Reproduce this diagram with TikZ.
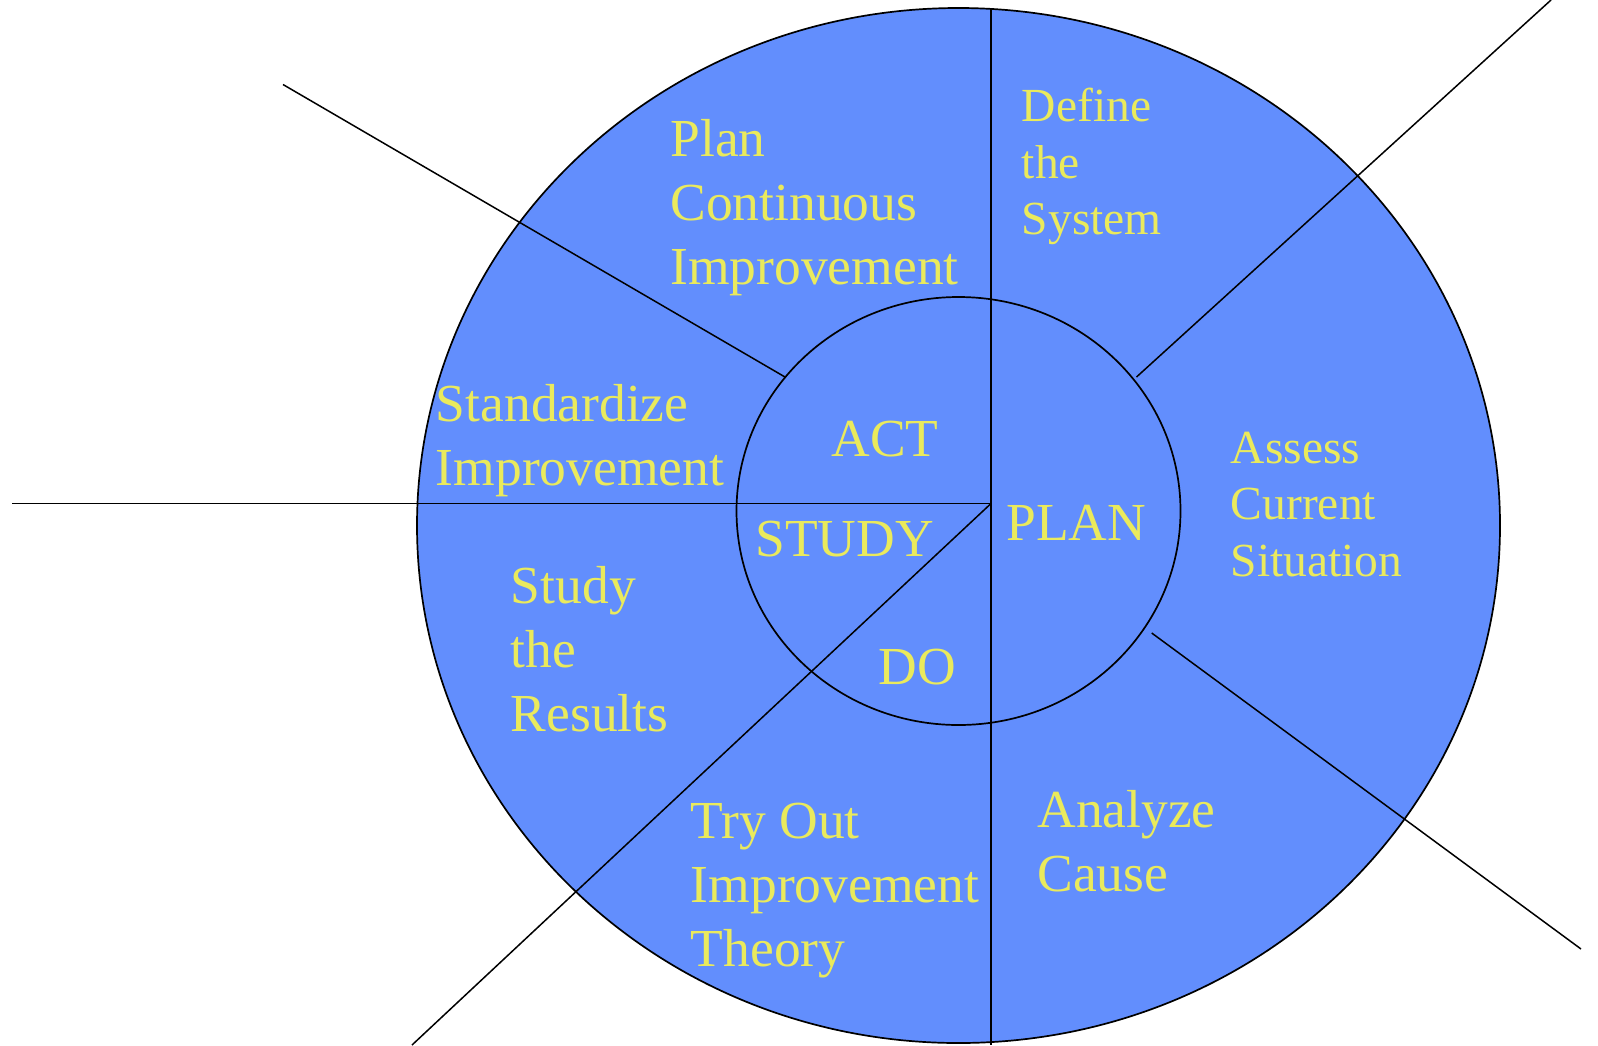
\documentclass[tikz,border=0pt]{standalone}
\usepackage{fontspec}
\setmainfont{Liberation Serif}
\definecolor{wheelblue}{RGB}{98,142,253}
\definecolor{labelyellow}{RGB}{234,234,92}
\newcommand{\lines}[1]{\begin{tabular}[t]{@{}l@{}}#1\end{tabular}}
\begin{document}
\begin{tikzpicture}[x=0.5pt,y=-0.5pt,
  edge/.style={draw=black,line width=0.75pt},
  rim/.style={draw=black,line width=0.85pt,fill=wheelblue},
  biglabel/.style={text=labelyellow,inner sep=0pt,anchor=base west,font=\fontsize{26.75}{32}\selectfont},
  smalllabel/.style={text=labelyellow,inner sep=0pt,anchor=base west,font=\fontsize{23.75}{28.25}\selectfont}]
\useasboundingbox (0,0) rectangle (1598,1045);
% wheels
\path[rim] (958.5,525.5) ellipse [x radius=541.5, y radius=517.5];
\path[rim] (958.5,511) ellipse [x radius=222, y radius=214];
% coordinates
\coordinate (c) at (991,503.5);
\coordinate (left) at (12,503.5);
\coordinate (top) at (991,8);
\coordinate (bottom) at (991,1045);
\coordinate (dl) at (412,1045);
\coordinate (ulA) at (283,84.5);
\coordinate (ulB) at (785,377);
\coordinate (urA) at (1136.5,377);
\coordinate (urB) at (1551,0);
\coordinate (lrA) at (1151.7,633);
\coordinate (lrB) at (1581,949);
% dividers
\draw[edge] (left) -- (c);
\draw[edge] (top) -- (bottom);
\draw[edge] (c) -- (dl);
\draw[edge] (ulA) -- (ulB);
\draw[edge] (urA) -- (urB);
\draw[edge] (lrA) -- (lrB);
% outer labels
\node[biglabel] (pci) at (670,156) {\lines{Plan\\Continuous\\Improvement}};
\node[smalllabel] (dts) at (1021.5,121.7) {\lines{Define\\the\\System}};
\node[biglabel] (si) at (435.5,421.7) {\lines{Standardize\\Improvement}};
\node[smalllabel] (acs) at (1230.5,463.3) {\lines{Assess\\Current\\Situation}};
\node[biglabel] (str) at (510.5,603.3) {\lines{Study\\the\\Results}};
\node[biglabel] (toit) at (690.5,838.3) {\lines{Try Out\\Improvement\\Theory}};
\node[biglabel] (ac) at (1037,827.7) {\lines{Analyze\\Cause}};
% inner labels
\node[biglabel] (act) at (831,456) {ACT};
\node[biglabel] (study) at (755,556) {STUDY};
\node[biglabel] (plan) at (1006,540) {PLAN};
\node[biglabel] (do) at (878,684) {DO};
\end{tikzpicture}
\end{document}
